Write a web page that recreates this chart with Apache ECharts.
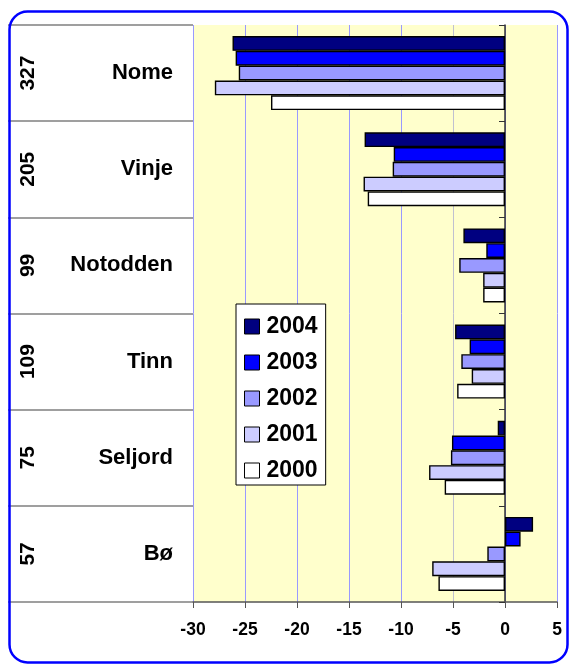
<!DOCTYPE html>
<html><head><meta charset="utf-8">
<script src="https://cdn.jsdelivr.net/npm/echarts@6/dist/echarts.min.js"></script>
<style>html,body{margin:0;padding:0;background:#fff}#c{width:569px;height:664px}</style>
</head><body><div id="c"></div>
<script>
const categories = ['Nome','Vinje','Notodden','Tinn','Seljord','Bø'];
const populations = ['327','205','99','109','75','57'];
const seriesNames = ['2004','2003','2002','2001','2000'];
const v2004 = [-26.2,-13.5,-4.0,-4.8,-0.7,2.7];
const v2003 = [-25.9,-10.7,-1.8,-3.4,-5.1,1.5];
const v2002 = [-25.6,-10.8,-4.4,-4.2,-5.2,-1.7];
const v2001 = [-27.9,-13.6,-2.1,-3.2,-7.3,-7.0];
const v2000 = [-22.5,-13.2,-2.1,-4.6,-5.8,-6.4];
const xTicks = {min:-30,max:5,interval:5};
const colors = ['#000080','#0000ff','#9999ff','#ccccff','#ffffff'];
const values = [v2004,v2003,v2002,v2001,v2000];
const FONT = '"Liberation Sans", Arial, sans-serif';

const GRID_LEFT = 193, GRID_RIGHT = 12, W = 569;
const unitPx = (W - GRID_LEFT - GRID_RIGHT) / (xTicks.max - xTicks.min);

const chart = echarts.init(document.getElementById('c'), null, {renderer:'canvas'});
const catAxisBase = {type:'category', data:categories, inverse:true, position:'left', splitLine:{show:false}};
chart.setOption({
  animation:false,
  textStyle:{fontFamily:FONT},
  grid:{left:GRID_LEFT, right:GRID_RIGHT, top:25, bottom:62, show:true, backgroundColor:'#ffffcc', borderWidth:0, containLabel:false},
  legend:{
    data:seriesNames, orient:'vertical', left:236, top:304,
    backgroundColor:'#ffffff', borderColor:'#000', borderWidth:1,
    padding:[11,8,3,8], itemGap:13, itemWidth:15, itemHeight:15, icon:'rect',
    itemStyle:{borderColor:'#000', borderWidth:1},
    textStyle:{fontSize:23, lineHeight:23, fontWeight:'bold', color:'#000', fontFamily:FONT, padding:[0,0,0,2]}
  },
  xAxis:{
    type:'value', min:xTicks.min, max:xTicks.max, interval:xTicks.interval,
    axisLine:{show:true, onZero:false, lineStyle:{color:'#555', width:1.5}},
    axisTick:{show:true, length:6, lineStyle:{color:'#555'}},
    axisLabel:{fontSize:17.5, fontWeight:'bold', color:'#000', margin:19, fontFamily:FONT},
    splitLine:{show:true, lineStyle:{color:['#9999ff','#9999ff','#9999ff','#9999ff','#9999ff','#c0c0d0','#9999ff','#9999ff'], width:1}}
  },
  yAxis:[
    Object.assign({}, catAxisBase, {
      axisLine:{show:true, onZero:true, lineStyle:{color:'#333', width:1.5}},
      axisTick:{show:true, length:6, lineStyle:{color:'#333'}},
      axisLabel:{show:false}
    }),
    Object.assign({}, catAxisBase, {
      axisLine:{show:false, onZero:false},
      axisTick:{show:true, length:185, lineStyle:{color:'#808080', width:1.5}},
      axisLabel:{show:true, margin:20, fontSize:22, fontWeight:'bold', color:'#000', fontFamily:FONT}
    }),
    Object.assign({}, catAxisBase, {
      data:populations,
      axisLine:{show:false, onZero:false},
      axisTick:{show:false},
      axisLabel:{show:true, rotate:90, margin:154, fontSize:21, fontWeight:'bold', color:'#000', fontFamily:FONT}
    }),
    Object.assign({}, catAxisBase, {
      position:'right', offset:-(xTicks.max - 0) * unitPx,
      axisLine:{show:false, onZero:false},
      axisTick:{show:true, inside:true, alignWithLabel:true, length:4, lineStyle:{color:'#333'}},
      axisLabel:{show:false}
    })
  ],
  series: seriesNames.map((n,i)=>({
    name:n, type:'bar', yAxisIndex:0, data:values[i],
    barGap:'0%', barCategoryGap:'23%',
    itemStyle:{color:colors[i], borderColor:'#000', borderWidth:1.4}
  })),
  graphic:[{
    type:'rect', left:7, top:9, silent:true, z:100,
    shape:{width:558, height:651, r:18},
    style:{fill:'none', stroke:'#0000ff', lineWidth:2.5}
  }]
});
</script></body></html>
